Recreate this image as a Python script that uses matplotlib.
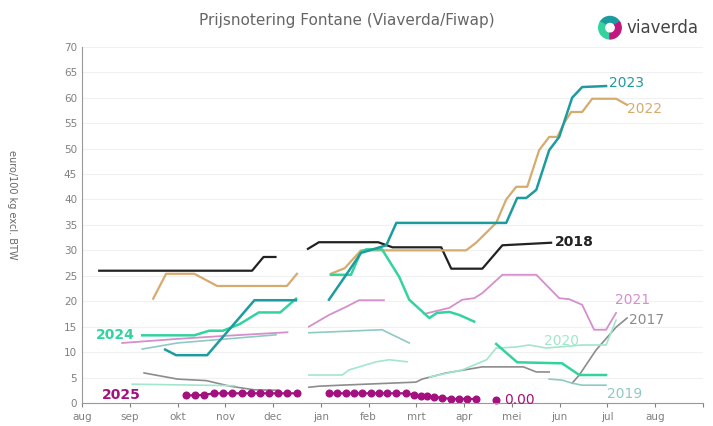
import matplotlib
matplotlib.use('Agg')

import matplotlib.pyplot as plt
from matplotlib.patches import Wedge

# x = months since 1 Aug (0 = aug, 12 = aug next year), y = euro/100 kg
MONTHS = ['aug', 'sep', 'okt', 'nov', 'dec', 'jan', 'feb', 'mrt', 'apr', 'mei', 'jun', 'jul', 'aug', '']

# each season is a list of segments (x, y); gaps between segments stay empty
s2017 = [
    ([1.30, 2.00, 2.60, 3.10, 3.60, 4.10], [5.9, 4.7, 4.4, 3.3, 2.6, 2.5]),
    ([4.75, 4.96, 5.42, 6.99, 7.12, 7.62, 8.38, 9.24, 9.51, 9.78],
     [3.1, 3.3, 3.5, 4.1, 4.7, 5.9, 7.1, 7.1, 6.1, 6.1]),
    ([10.26, 10.41, 10.76, 11.18, 11.41], [3.9, 5.5, 10.4, 14.9, 16.7]),
]
s2018 = [
    ([0.36, 3.56, 3.80, 4.05], [26.0, 26.0, 28.7, 28.7]),
    ([4.73, 4.96, 6.20, 6.50, 7.52, 7.73, 8.38, 8.80, 9.82],
     [30.3, 31.6, 31.6, 30.6, 30.6, 26.4, 26.4, 31.0, 31.5]),
]
s2019 = [
    ([1.26, 2.00, 4.06], [10.6, 11.8, 13.4]),
    ([4.75, 6.28, 6.85], [13.8, 14.4, 11.8]),
    ([9.78, 10.05, 10.26, 10.47, 10.97], [4.7, 4.5, 3.9, 3.5, 3.5]),
]
s2020 = [
    ([1.05, 3.20], [3.7, 3.4]),
    ([4.75, 5.45, 5.59, 6.16, 6.43, 6.81], [5.5, 5.5, 6.5, 8.1, 8.5, 8.1]),
    ([7.27, 7.96, 8.47, 8.67, 9.09, 9.36, 9.72, 10.47, 10.97, 11.18],
     [5.1, 6.5, 8.5, 10.8, 11.0, 11.4, 10.8, 11.4, 11.4, 16.3]),
]
s2021 = [
    ([0.84, 2.00, 3.00, 4.30], [11.8, 12.6, 13.2, 13.9]),
    ([4.75, 5.17, 5.53, 5.80, 6.32], [15.0, 17.3, 18.9, 20.2, 20.2]),
    ([7.16, 7.69, 7.96, 8.21, 8.38, 8.80, 9.51, 9.99, 10.20, 10.47, 10.72, 10.97, 11.18],
     [17.5, 18.7, 20.3, 20.6, 21.6, 25.2, 25.2, 20.6, 20.4, 19.3, 14.4, 14.4, 17.7]),
]
s2022 = [
    ([1.49, 1.76, 2.35, 2.83, 4.29, 4.50], [20.5, 25.4, 25.4, 23.0, 23.0, 25.4]),
    ([5.21, 5.50, 5.84, 8.04, 8.25, 8.67, 8.88, 9.09, 9.32, 9.57, 9.78, 9.95,
      10.09, 10.24, 10.47, 10.68, 11.18, 11.41],
     [25.4, 26.5, 30.0, 30.0, 31.5, 35.4, 40.0, 42.5, 42.5, 49.7, 52.3, 52.3,
      55.0, 57.2, 57.2, 59.8, 59.8, 58.6]),
]
s2023 = [
    ([1.74, 1.97, 2.62, 3.61, 4.48], [10.5, 9.4, 9.4, 20.2, 20.2]),
    ([5.17, 5.53, 5.84, 6.37, 6.58, 8.88, 9.11, 9.30, 9.51, 9.78, 9.99, 10.26, 10.47, 10.97],
     [20.3, 25.2, 29.5, 31.0, 35.4, 35.4, 40.3, 40.3, 41.9, 49.7, 52.3, 60.0, 62.1, 62.3]),
]
s2024 = [
    ([1.26, 2.35, 2.66, 2.95, 3.30, 3.70, 4.15, 4.48],
     [13.3, 13.3, 14.2, 14.2, 15.5, 17.8, 17.8, 20.5]),
    ([5.21, 5.63, 5.84, 5.95, 6.28, 6.64, 6.85, 7.27, 7.43, 7.69, 7.90, 8.21],
     [25.2, 25.2, 29.7, 30.2, 30.2, 24.8, 20.3, 16.7, 17.7, 17.9, 17.3, 16.0]),
    ([8.67, 9.11, 10.05, 10.41, 10.97], [11.6, 8.0, 7.8, 5.5, 5.5]),
]
s2025 = [
    ([2.18, 2.37, 2.56, 2.76, 2.95, 3.14, 3.34, 3.53, 3.72, 3.92, 4.11, 4.30, 4.50],
     [1.5, 1.5, 1.6, 1.9, 1.9, 1.9, 1.9, 1.9, 1.9, 1.9, 1.9, 1.9, 1.9]),
    ([5.17, 5.34, 5.53, 5.70, 5.86, 6.05, 6.22, 6.39, 6.58, 6.79,
      6.95, 7.10, 7.23, 7.37, 7.54, 7.73, 7.90, 8.06, 8.25],
     [1.9, 1.9, 1.9, 1.9, 1.9, 1.9, 1.9, 1.9, 1.9, 1.9,
      1.6, 1.4, 1.4, 1.2, 1.0, 0.8, 0.8, 0.8, 0.8]),
    ([8.67], [0.6]),
]

# season name, data, colour, line width, label position, bold
SEASONS = [
    ('2017', s2017, '#8c8c8c', 1.2, (11.45, 16.3), False),
    ('2019', s2019, '#8fc9c3', 1.2, (11.0, 1.7), False),
    ('2020', s2020, '#a2e6cc', 1.2, (9.68, 12.2), False),
    ('2021', s2021, '#d48fcc', 1.3, (11.15, 20.3), False),
    ('2018', s2018, '#222222', 1.6, (9.9, 31.6), True),
    ('2022', s2022, '#d6ab6e', 1.6, (11.4, 57.8), False),
    ('2024', s2024, '#33d3a0', 1.8, (0.3, 13.4), True),
    ('2023', s2023, '#1c9c9e', 1.8, (11.03, 62.8), False),
]

fig = plt.figure(figsize=(7.13, 4.26), dpi=100)
ax = fig.add_axes([0.115, 0.054, 0.871, 0.836])

for name, segs, color, lw, pos, bold in SEASONS:
    for xs, ys in segs:
        ax.plot(xs, ys, color=color, linewidth=lw, solid_joinstyle='round')
    ax.text(pos[0], pos[1], name, color=color, fontsize=10, va='center', ha='left',
            fontweight='bold' if bold else 'normal')

for xs, ys in s2025:
    ax.plot(xs, ys, color='#a3117e', linewidth=1.6, marker='o', markersize=4.8,
            clip_on=False)
ax.text(0.42, 1.6, '2025', color='#a3117e', fontsize=10, fontweight='bold',
        va='center', ha='left')
ax.text(8.84, 0.6, '0.00', color='#a3117e', fontsize=10, va='center', ha='left')

ax.set_xlim(0, 13)
ax.set_ylim(0, 70)
ax.set_xticks(range(len(MONTHS)))
ax.set_xticklabels(MONTHS)
ax.set_yticks(range(0, 71, 5))
ax.tick_params(axis='both', colors='#808080', labelsize=7.5, length=3)
ax.tick_params(axis='y', length=0)
for side in ['top', 'right']:
    ax.spines[side].set_visible(False)
for side in ['left', 'bottom']:
    ax.spines[side].set_color('#999999')
ax.grid(axis='y', color='#f0f0f0', linewidth=0.8)
ax.set_axisbelow(True)

fig.text(0.017, 0.52, 'euro/100 kg excl. BTW', rotation=270, ha='center', va='center',
         fontsize=7, color='#666666')
fig.text(0.487, 0.952, 'Prijsnotering Fontane (Viaverda/Fiwap)', ha='center', va='center',
         fontsize=11, color='#666666')

# logo
logo_ax = fig.add_axes([0.838, 0.905, 0.035, 0.06])
logo_ax.set_xlim(-1, 1)
logo_ax.set_ylim(-1, 1)
logo_ax.set_aspect('equal')
logo_ax.axis('off')
logo_ax.add_patch(Wedge((0, 0), 0.9, 30, 150, width=0.45, color='#1c9c9e'))
logo_ax.add_patch(Wedge((0, 0), 0.9, 150, 270, width=0.45, color='#33d3a0'))
logo_ax.add_patch(Wedge((0, 0), 0.9, 270, 390, width=0.45, color='#c2187e'))
fig.text(0.878, 0.935, 'viaverda', ha='left', va='center', fontsize=12, color='#444444')

plt.savefig('out.png', dpi=100)
